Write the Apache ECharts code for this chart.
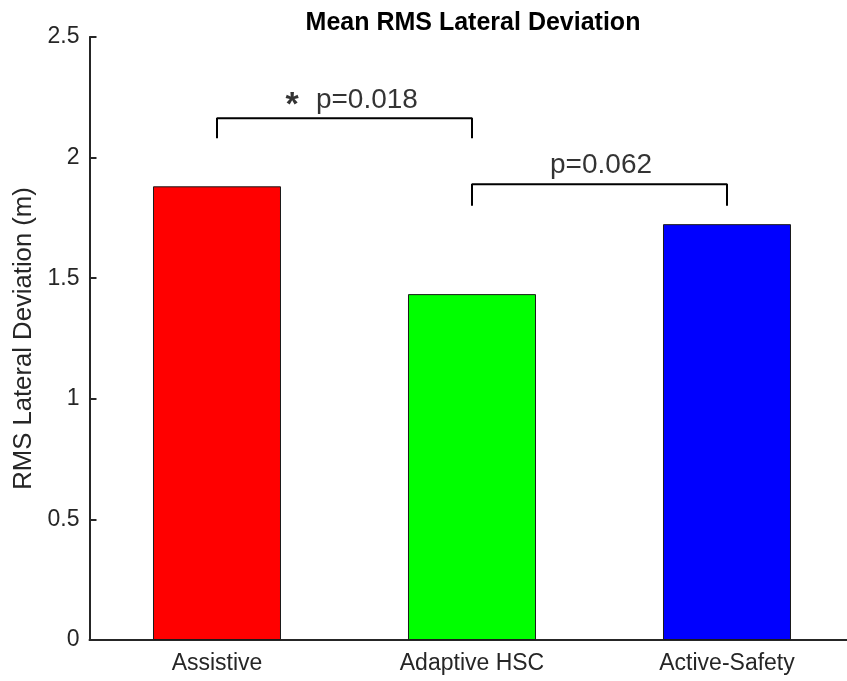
<!DOCTYPE html>
<html>
<head>
<meta charset="utf-8">
<script src="https://cdn.jsdelivr.net/npm/echarts@6/dist/echarts.min.js"></script>
<style>
html,body{margin:0;padding:0;background:#fff;}
#c{width:847px;height:681px;}
</style>
</head>
<body>
<div id="c"></div>
<script>
const categories = ['Assistive', 'Adaptive HSC', 'Active-Safety'];
const categoryPos = [1, 2, 3];
const values = [1.881, 1.434, 1.724];
const barColors = ['#ff0000', '#00ff00', '#0000ff'];
const yMin = 0, yMax = 2.5, yStep = 0.5;
// x range (axis is cut at the right edge of the figure)
const xMin = 0.5, xMax = 3.4706;
// brackets: [fromCategory, toCategory, topValue, legBottomValue]
const bracket1 = [1, 2, 2.163, 2.08];
const bracket2 = [2, 3, 1.89, 1.80];
// annotation labels: [x position, y value, text]
const starLabel = [1.295, 2.217, '*'];
const pLabel1 = [1.588, 2.238, 'p=0.018'];
const pLabel2 = [2.506, 1.968, 'p=0.062'];

function bracketPts(b) {
  return [[b[0], b[3]], [b[0], b[2]], [b[1], b[2]], [b[1], b[3]]];
}

const chart = echarts.init(document.getElementById('c'), null, {renderer: 'canvas'});
const font = 'Liberation Sans, Arial, Helvetica, sans-serif';
const txt = '#262626';

chart.setOption({
  animation: false,
  backgroundColor: '#fff',
  title: {
    text: 'Mean RMS Lateral Deviation',
    left: 468, top: 6, textAlign: 'center',
    textStyle: {fontFamily: font, fontWeight: 'bold', fontSize: 25, color: '#000'}
  },
  grid: {left: 89.5, top: 37, right: 0, bottom: 41, containLabel: false},
  xAxis: {
    type: 'value', min: xMin, max: xMax,
    axisLine: {show: true, lineStyle: {color: txt, width: 2}},
    axisTick: {show: false},
    splitLine: {show: false},
    axisLabel: {color: txt, fontFamily: font, fontSize: 23, margin: 12,
      customValues: categoryPos,
      formatter: v => categories[categoryPos.indexOf(v)] || ''}
  },
  yAxis: {
    type: 'value', min: yMin, max: yMax, interval: yStep,
    name: 'RMS Lateral Deviation (m)', nameLocation: 'middle', nameGap: 52,
    nameTextStyle: {color: txt, fontFamily: font, fontSize: 25.7},
    axisLine: {show: true, lineStyle: {color: txt, width: 2}},
    axisTick: {show: true, inside: true, length: 7, lineStyle: {color: txt, width: 2}},
    splitLine: {show: false},
    axisLabel: {color: txt, fontFamily: font, fontSize: 23, margin: 10,
      formatter: v => String(v)}
  },
  series: [{
    type: 'bar', barWidth: 128,
    data: values.map((v, i) => ({value: [categoryPos[i], v], itemStyle: {color: barColors[i]}})),
    itemStyle: {borderColor: '#1a1a1a', borderWidth: 1}
  }, {
    type: 'line', data: bracketPts(bracket1), symbol: 'none',
    lineStyle: {color: '#000', width: 2}
  }, {
    type: 'line', data: bracketPts(bracket2), symbol: 'none',
    lineStyle: {color: '#000', width: 2}
  }, {
    type: 'scatter', symbolSize: 0,
    data: [starLabel, pLabel1, pLabel2].map(a => ({value: [a[0], a[1]], name: a[2],
      label: a[2] === '*' ? {fontSize: 34, fontWeight: 'bold'} : {}})),
    label: {show: true, position: 'inside', formatter: p => p.name,
      color: '#000', fontFamily: font, fontSize: 28}
  }]
});
</script>
</body>
</html>
